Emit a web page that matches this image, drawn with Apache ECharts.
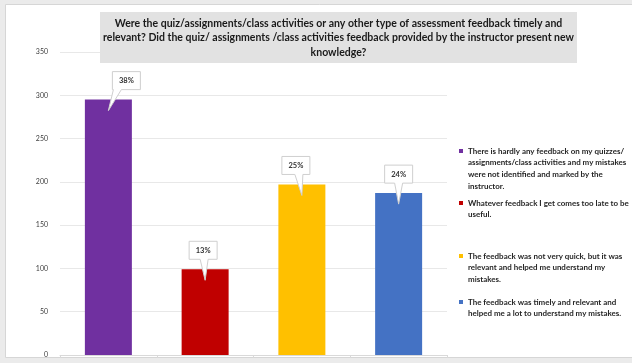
<!DOCTYPE html>
<html>
<head>
<meta charset="utf-8">
<script src="https://cdn.jsdelivr.net/npm/echarts@6/dist/echarts.min.js"></script>
<style>
  html, body { margin: 0; padding: 0; background: #ebebeb; }
  #chart { width: 632px; height: 363px; }
</style>
</head>
<body>
<div id="chart"></div>
<script>
// Survey answers: one bar per answer option
const categories = ['1', '2', '3', '4'];
const answerLabels = [
  'There is hardly any feedback on my quizzes/\nassignments/class activities and my mistakes\nwere not identified and marked by the\ninstructor.',
  'Whatever feedback I get comes too late to be\nuseful.',
  'The feedback was not very quick, but it was\nrelevant and helped me understand my\nmistakes.',
  'The feedback was timely and relevant and\nhelped me a lot to understand my mistakes.'
];
const responseCounts = [295, 99, 197, 187];
const percentLabels = ['38%', '13%', '25%', '24%'];
const yTicks = [0, 50, 100, 150, 200, 250, 300, 350];

const barColors = ['#7030A0', '#C00000', '#FFC000', '#4472C4'];
const titleLines = [
  'Were the quiz/assignments/class activities or any other type of assessment feedback timely and',
  'relevant? Did the quiz/ assignments /class activities feedback provided by the instructor present new',
  'knowledge?'
];

const FONT = 'Lato, "Open Sans", sans-serif';
const LEGEND_LH = 11.8;
const legendLineY = [151, 203, 256, 302];
const calloutShift = [18, -2, -6, 0];

// measure text to fit the condensed look of the title and legend
const measureCtx = document.createElement('canvas').getContext('2d');
function textWidth(font, s) { measureCtx.font = font; return measureCtx.measureText(s).width; }
const TITLE_SIZE = 12;
const titleScaleX = 471 / textWidth('bold ' + TITLE_SIZE + 'px ' + FONT, titleLines[1]);
const legendFontSize = 9 * 161 / textWidth('bold 9px ' + FONT, 'Whatever feedback I get comes too late to be');

const chart = echarts.init(document.getElementById('chart'), null, { renderer: 'canvas' });

const barSeries = answerLabels.map((name, i) => ({
  type: 'bar',
  name: name,
  barWidth: 47,
  barGap: '-100%',
  itemStyle: { color: barColors[i] },
  data: responseCounts.map((v, j) => (j === i ? v : '-')),
  z: 2
}));

// Speech-bubble callouts pointing into the top of each bar
const calloutSeries = {
  type: 'custom',
  z: 5,
  silent: true,
  data: responseCounts.map((v, i) => [i, v]),
  encode: { x: 0, y: 1 },
  renderItem: function (params, api) {
    const i = params.dataIndex;
    const p = api.coord([api.value(0), api.value(1)]);
    const w = 28, h = 18;
    const tip = [p[0], p[1] + 11];
    const cx = p[0] + calloutShift[i];
    const bottom = p[1] - 10;
    const top = bottom - h;
    const left = cx - w / 2, right = cx + w / 2;
    const baseC = cx - calloutShift[i] * 0.5;
    const points = [
      [left, top], [right, top], [right, bottom],
      [baseC + 4, bottom], tip, [baseC - 4, bottom],
      [left, bottom]
    ];
    return {
      type: 'group',
      children: [
        {
          type: 'polygon',
          shape: { points: points },
          style: { fill: '#ffffff', stroke: '#cfcfcf', lineWidth: 1 }
        },
        {
          type: 'text',
          style: {
            x: cx, y: (top + bottom) / 2,
            text: percentLabels[i],
            align: 'center', verticalAlign: 'middle',
            font: 'bold 7.5px ' + FONT,
            fill: '#333333'
          }
        }
      ]
    };
  }
};

// One legend per answer so each block sits at its own height;
// the icon path puts the small square beside the first text line.
const legends = answerLabels.map((name, i) => {
  const n = name.split('\n').length;
  const H = n * LEGEND_LH;
  const a = LEGEND_LH / 2 - 2;
  return {
    data: [name],
    orient: 'vertical',
    left: 459,
    top: legendLineY[i] - LEGEND_LH / 2,
    padding: 0,
    icon: 'path://M0,0L0,0M0,' + H + 'L0,' + H + 'M0,' + a + 'h4v4h-4z',
    symbolKeepAspect: false,
    itemWidth: 4,
    itemHeight: H,
    itemGap: 0,
    selectedMode: false,
    textStyle: {
      fontFamily: FONT,
      fontWeight: 'bold',
      fontSize: legendFontSize,
      color: '#262626',
      lineHeight: LEGEND_LH
    }
  };
});

const option = {
  backgroundColor: '#ebebeb',
  animation: false,
  textStyle: { fontFamily: FONT },
  graphic: [
    {
      type: 'rect', z: -10, silent: true,
      shape: { x: 5.5, y: 4.5, width: 640, height: 353 },
      style: { fill: '#ffffff', stroke: '#d6d6d6', lineWidth: 1 }
    },
    {
      type: 'rect', z: 100, silent: true,
      shape: { x: 100, y: 12, width: 477, height: 51 },
      style: { fill: '#e2e2e2' }
    },
    {
      type: 'text', z: 101, silent: true,
      x: 338.5, y: 37.5,
      scaleX: titleScaleX,
      style: {
        x: 0, y: 0,
        text: titleLines.join('\n'),
        align: 'center', verticalAlign: 'middle',
        font: 'bold ' + TITLE_SIZE + 'px ' + FONT,
        lineHeight: 14.2,
        fill: '#1a1a1a'
      }
    }
  ],
  legend: legends,
  grid: { left: 60, right: 185, top: 52, bottom: 8 },
  xAxis: {
    type: 'category',
    data: categories,
    axisLabel: { show: false },
    axisLine: { lineStyle: { color: '#d9d9d9' } },
    axisTick: { show: true, length: 3, lineStyle: { color: '#d9d9d9' } }
  },
  yAxis: {
    type: 'value',
    min: yTicks[0],
    max: yTicks[yTicks.length - 1],
    interval: yTicks[1] - yTicks[0],
    axisLine: { show: false },
    axisTick: { show: false },
    axisLabel: { fontSize: 7, color: '#404040', margin: 12, fontFamily: FONT },
    splitLine: { lineStyle: { color: '#e8e8e8' } }
  },
  series: barSeries.concat([calloutSeries])
};

chart.setOption(option);
</script>
</body>
</html>
